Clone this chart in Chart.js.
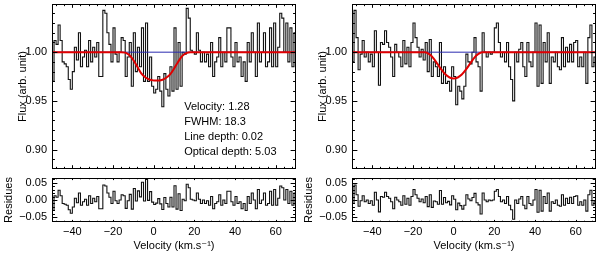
<!DOCTYPE html>
<html><head><meta charset="utf-8">
<script src="https://cdn.jsdelivr.net/npm/chart.js@4.4.1/dist/chart.umd.min.js"></script>
<style>
html,body{margin:0;padding:0;background:#fff;}
#wrap{position:relative;width:600px;height:254px;overflow:hidden;background:#fff;}
canvas{position:absolute;}
</style></head><body>
<div id="wrap">
<canvas id="fluxL" style="left:0px;top:0px" width="300" height="175"></canvas>
<canvas id="resL" style="left:0px;top:175px" width="300" height="79"></canvas>
<canvas id="fluxR" style="left:300px;top:0px" width="300" height="175"></canvas>
<canvas id="resR" style="left:300px;top:175px" width="300" height="79"></canvas>
</div>
<script>
// ---- data ----
const velocity = [-49.5,-48.5,-47.5,-46.5,-45.5,-44.5,-43.5,-42.5,-41.5,-40.5,
-39.5,-38.5,-37.5,-36.5,-35.5,-34.5,-33.5,-32.5,-31.5,-30.5,
-29.5,-28.5,-27.5,-26.5,-25.5,-24.5,-23.5,-22.5,-21.5,-20.5,
-19.5,-18.5,-17.5,-16.5,-15.5,-14.5,-13.5,-12.5,-11.5,-10.5,
-9.5,-8.5,-7.5,-6.5,-5.5,-4.5,-3.5,-2.5,-1.5,-0.5,
0.5,1.5,2.5,3.5,4.5,5.5,6.5,7.5,8.5,9.5,
10.5,11.5,12.5,13.5,14.5,15.5,16.5,17.5,18.5,19.5,
20.5,21.5,22.5,23.5,24.5,25.5,26.5,27.5,28.5,29.5,
30.5,31.5,32.5,33.5,34.5,35.5,36.5,37.5,38.5,39.5,
40.5,41.5,42.5,43.5,44.5,45.5,46.5,47.5,48.5,49.5,
50.5,51.5,52.5,53.5,54.5,55.5,56.5,57.5,58.5,59.5,
60.5,61.5,62.5,63.5,64.5,65.5,66.5,67.5,68.5,69.5];

const fluxLeft = [0.970,1.012,1.008,1.028,1.012,0.990,0.988,0.985,0.972,0.962,
0.980,1.005,0.992,1.020,0.985,0.995,1.002,0.985,1.012,0.990,
1.005,0.995,1.010,0.975,0.975,1.043,1.040,1.020,1.008,0.990,
1.025,0.998,0.990,1.000,1.015,1.012,0.975,0.995,1.010,0.965,
1.020,0.980,1.005,0.985,1.025,0.970,1.030,0.970,0.995,0.965,
0.958,0.962,0.975,0.960,0.944,0.978,0.962,0.955,0.985,0.960,
1.025,0.962,1.010,0.965,1.000,0.998,1.045,1.035,1.002,1.000,
0.998,1.020,1.002,0.990,1.000,0.990,0.998,0.985,1.010,0.975,
0.990,0.995,1.015,0.985,1.000,0.990,1.025,1.025,0.995,0.985,
1.010,0.990,0.995,0.975,0.990,0.970,1.010,0.990,1.020,1.000,
0.975,1.030,0.990,1.000,1.020,0.985,0.990,1.025,0.985,1.030,
0.985,1.005,1.040,1.035,1.000,1.030,0.990,1.025,0.985,1.020];

const residLeft = [-0.030,0.012,0.008,0.028,0.012,-0.010,-0.012,-0.015,-0.028,-0.038,
-0.020,0.005,-0.008,0.020,-0.015,-0.005,0.002,-0.015,0.012,-0.010,
0.005,-0.005,0.010,-0.025,-0.025,0.043,0.040,0.020,0.008,-0.010,
0.025,-0.002,-0.010,0.000,0.015,0.012,-0.024,-0.002,0.016,-0.026,
0.033,-0.003,0.026,0.009,0.051,-0.003,0.059,-0.001,0.024,-0.006,
-0.013,-0.009,0.004,-0.011,-0.027,0.007,-0.010,-0.020,0.008,-0.020,
0.041,-0.026,0.018,-0.030,0.002,-0.002,0.045,0.035,0.002,0.000,
-0.002,0.020,0.002,-0.010,0.000,-0.010,-0.002,-0.015,0.010,-0.025,
-0.010,-0.005,0.015,-0.015,0.000,-0.010,0.025,0.025,-0.005,-0.015,
0.010,-0.010,-0.005,-0.025,-0.010,-0.030,0.010,-0.010,0.020,0.000,
-0.025,0.030,-0.010,0.000,0.020,-0.015,-0.010,0.025,-0.015,0.030,
-0.015,0.005,0.040,0.035,0.000,0.030,-0.010,0.025,-0.015,0.020];

const fluxRight = [0.990,1.043,1.015,0.982,0.998,1.012,0.995,1.000,0.990,0.998,
0.985,1.022,1.000,0.966,1.010,1.008,1.022,1.010,1.005,0.995,
0.975,1.008,1.000,0.995,0.985,1.012,0.988,1.005,0.985,1.010,
1.030,1.015,1.005,0.995,1.003,0.992,1.010,0.980,1.013,0.975,
0.990,0.985,0.975,1.010,0.968,0.985,0.968,0.970,0.960,0.985,
0.975,0.946,0.965,0.960,0.952,0.965,0.998,0.990,0.988,1.000,
1.015,0.990,0.985,0.960,1.020,1.000,0.995,1.000,0.998,1.000,
1.025,1.030,1.010,0.995,1.000,0.990,1.010,0.985,0.972,0.950,
1.000,0.990,1.003,1.010,0.985,0.975,1.010,0.990,0.985,1.000,
1.030,0.965,1.028,0.968,1.010,0.990,1.020,0.968,0.995,0.990,
1.000,0.985,0.982,1.015,0.985,1.005,0.990,1.008,0.990,1.010,
1.012,0.985,0.995,0.985,1.000,0.968,1.015,1.028,0.985,0.995];

const residRight = [-0.010,0.043,0.015,-0.018,-0.002,0.012,-0.005,0.000,-0.010,-0.002,
-0.015,0.022,0.000,-0.034,0.010,0.008,0.022,0.010,0.005,-0.005,
-0.025,0.008,0.000,-0.005,-0.015,0.012,-0.012,0.005,-0.015,0.010,
0.030,0.015,0.005,-0.005,0.003,-0.008,0.010,-0.019,0.015,-0.021,
-0.003,-0.005,-0.012,0.027,-0.012,0.007,-0.008,-0.004,-0.014,0.012,
0.002,-0.028,-0.009,-0.016,-0.026,-0.015,0.015,0.003,-0.002,0.007,
0.019,-0.008,-0.014,-0.040,0.020,0.000,-0.005,0.000,-0.002,0.000,
0.025,0.030,0.010,-0.005,0.000,-0.010,0.010,-0.015,-0.028,-0.055,
0.000,-0.010,0.003,0.010,-0.015,-0.025,0.010,-0.010,-0.015,0.000,
0.030,-0.035,0.028,-0.032,0.010,-0.010,0.020,-0.032,-0.005,-0.010,
0.000,-0.015,-0.018,0.015,-0.015,0.005,-0.010,0.008,-0.010,0.010,
0.012,-0.015,-0.005,-0.015,0.000,-0.032,0.015,0.028,-0.015,-0.005];

const fitVelocity = [-50,-40,-30,-20,-16,-14,-12,-10,-8,-6,-4,-2,0,2,4,6,8,10,12,14,16,18,30,40,50,60,70];
const fitLeft  = [1.000,1.000,1.000,1.000,1.000,0.9995,0.997,0.992,0.985,0.978,0.974,0.9718,0.971,0.9708,0.9715,0.9735,0.977,0.983,0.990,0.996,0.999,1.000,1.000,1.000,1.000,1.000,1.000];
const fitRight = [1.000,1.000,1.000,1.000,1.000,1.000,0.998,0.994,0.988,0.982,0.977,0.974,0.973,0.974,0.977,0.982,0.988,0.994,0.998,1.000,1.000,1.000,1.000,1.000,1.000,1.000,1.000];

const continuumVelocity = [-50, 70];
const continuumFlux = [1.0, 1.0];

const xTickValues = [-40,-20,0,20,40,60];
const xTickLabels = ['\u221240','\u221220','0','20','40','60'];
const fluxTickValues = [0.90,0.95,1.00];
const fluxTickLabels = ['0.90','0.95','1.00'];
const residTickValues = [-0.05,0.00,0.05];
const residTickLabels = ['\u22120.05','0.00','0.05'];
const fitText = ['Velocity: 1.28','FWHM: 18.3','Line depth: 0.02','Optical depth: 5.03'];
const fitTextFlux = [0.9433,0.9282,0.9131,0.8980];
const fitTextVelocity = 15;

// ---- styling / helpers ----
const FONT = "'Liberation Sans','DejaVu Sans',sans-serif";
Chart.defaults.font.family = FONT;
Chart.defaults.font.size = 11;
Chart.defaults.color = '#000';

const pts = (xs, ys) => xs.map((x, i) => ({x: x, y: ys[i]}));

const frameTicks = {
  id: 'frameTicks',
  afterDatasetsDraw(chart, args, o) {
    const {ctx, chartArea: a} = chart;
    const xs = chart.scales.x, ys = chart.scales.y;
    const L = Math.round(a.left) + 0.5, R = Math.round(a.right) - 0.5;
    const T = Math.round(a.top) + 0.5, B = Math.round(a.bottom) - 0.5;
    ctx.save();
    ctx.strokeStyle = '#000';
    ctx.lineWidth = 1;
    ctx.beginPath();
    const w = a.right - a.left, h = a.bottom - a.top;
    const yMaj = 0.02 * w, xMaj = Math.max(1.6, 0.02 * h);
    const yTick = (v, len) => {
      const p = Math.round(ys.getPixelForValue(v)) + 0.5;
      if (p < T || p > B) return;
      ctx.moveTo(L, p); ctx.lineTo(L + len, p);
      ctx.moveTo(R, p); ctx.lineTo(R - len, p);
    };
    const xTick = (v, len) => {
      const p = Math.round(xs.getPixelForValue(v)) + 0.5;
      if (p < L || p > R) return;
      ctx.moveTo(p, B); ctx.lineTo(p, B - len);
      ctx.moveTo(p, T); ctx.lineTo(p, T + len);
    };
    for (let v = o.yMinorStart; v <= ys.max + 1e-9; v += o.yMinorStep) yTick(v, yMaj / 2);
    o.yMajor.forEach(v => yTick(v, yMaj));
    for (let v = o.xMinorStart; v <= xs.max + 1e-9; v += o.xMinorStep) xTick(v, xMaj / 2);
    o.xMajor.forEach(v => xTick(v, xMaj));
    ctx.stroke();
    ctx.strokeRect(L, T, R - L, B - T);
    if (o.text) {
      ctx.fillStyle = '#000';
      ctx.font = "11px " + FONT;
      ctx.textBaseline = 'middle';
      ctx.textAlign = 'left';
      const tx = xs.getPixelForValue(o.textX);
      o.text.forEach((t, i) => ctx.fillText(t, tx, ys.getPixelForValue(o.textY[i])));
    }
    ctx.restore();
  }
};

function yAxis(min, max, ticks, labels, title, titlePad) {
  return {
    type: 'linear', min: min, max: max, position: 'left',
    afterFit: s => { s.width = 52; s.paddingTop = 0; s.paddingBottom = 0; },
    afterBuildTicks: s => { s.ticks = ticks.map(v => ({value: v})); },
    ticks: { padding: 5, callback: (v, i) => labels[i], font: {size: 11}, color: '#000' },
    grid: { display: false, drawTicks: false },
    border: { display: false },
    title: { display: true, text: title, color: '#000', font: {size: 11}, padding: {top: titlePad, bottom: 0} }
  };
}

function fluxChart(id, flux, fit, text) {
  return new Chart(document.getElementById(id), {
    type: 'line',
    data: { datasets: [
      { data: pts(velocity, flux), order: 3, borderColor: '#111', borderWidth: 1.1, pointRadius: 0, stepped: 'middle', fill: false },
      { data: pts(continuumVelocity, continuumFlux), order: 2, borderColor: '#2a2ab0', borderWidth: 1, pointRadius: 0, fill: false },
      { data: pts(fitVelocity, fit), order: 0, borderColor: '#e00000', borderWidth: 2, pointRadius: 0, cubicInterpolationMode: 'monotone', fill: false }
    ]},
    options: {
      responsive: false, animation: false, events: [], devicePixelRatio: 1,
      layout: { padding: { top: 4, right: 4, bottom: 6, left: 0 } },
      plugins: { legend: {display: false}, tooltip: {enabled: false},
        frameTicks: { yMajor: fluxTickValues, yMinorStart: 0.88, yMinorStep: 0.01,
                      xMajor: xTickValues, xMinorStart: -48, xMinorStep: 4,
                      text: text, textX: fitTextVelocity, textY: fitTextFlux } },
      scales: {
        x: { type: 'linear', min: -50, max: 70, display: false },
        y: yAxis(0.88, 1.0495, fluxTickValues, fluxTickLabels, 'Flux (arb. unit)', 16.4)
      }
    },
    plugins: [frameTicks]
  });
}

function residChart(id, resid) {
  return new Chart(document.getElementById(id), {
    type: 'line',
    data: { datasets: [
      { data: pts(velocity, resid), borderColor: '#111', borderWidth: 1.1, pointRadius: 0, stepped: 'middle', fill: false }
    ]},
    options: {
      responsive: false, animation: false, events: [], devicePixelRatio: 1,
      layout: { padding: { top: 3, right: 4, bottom: 0, left: 0 } },
      plugins: { legend: {display: false}, tooltip: {enabled: false},
        frameTicks: { yMajor: residTickValues, yMinorStart: -0.06, yMinorStep: 0.01,
                      xMajor: xTickValues, xMinorStart: -48, xMinorStep: 4 } },
      scales: {
        x: { type: 'linear', min: -50, max: 70, position: 'bottom',
             afterFit: s => { s.height = 32; s.paddingLeft = 0; s.paddingRight = 0; },
             afterBuildTicks: s => { s.ticks = xTickValues.map(v => ({value: v})); },
             ticks: { padding: 3.4, maxRotation: 0, autoSkip: false, callback: (v, i) => xTickLabels[i], font: {size: 11}, color: '#000' },
             grid: { display: false, drawTicks: false },
             border: { display: false },
             title: { display: true, text: 'Velocity (km.s\u207B\u00B9)', color: '#000', font: {size: 11}, padding: {top: 0, bottom: 1.4} } },
        y: yAxis(-0.063, 0.063, residTickValues, residTickLabels, 'Residues', 2.4)
      }
    },
    plugins: [frameTicks]
  });
}

fluxChart('fluxL', fluxLeft, fitLeft, fitText);
residChart('resL', residLeft);
fluxChart('fluxR', fluxRight, fitRight, null);
residChart('resR', residRight);
</script>
</body></html>
